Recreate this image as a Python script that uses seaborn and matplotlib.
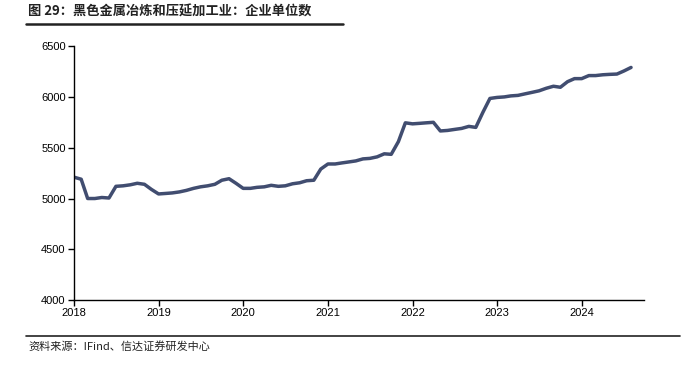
import numpy as np
import pandas as pd
import matplotlib
matplotlib.use("Agg")
import matplotlib.pyplot as plt
import matplotlib.dates as mdates
from matplotlib.lines import Line2D
import seaborn as sns

# monthly number of enterprises, Jan 2018 - Aug 2024
months = pd.date_range("2018-01-01", periods=80, freq="MS")
units = [
    5210, 5190, 5000, 5000, 5010, 5005, 5120, 5125, 5135, 5150, 5140, 5090,  # 2018
    5045, 5050, 5055, 5065, 5080, 5100, 5115, 5125, 5140, 5180, 5195, 5150,  # 2019
    5100, 5100, 5110, 5115, 5130, 5120, 5125, 5145, 5155, 5175, 5180, 5290,  # 2020
    5340, 5340, 5350, 5360, 5370, 5390, 5395, 5410, 5440, 5435, 5560, 5745,  # 2021
    5735, 5740, 5745, 5750, 5665, 5670, 5680, 5690, 5710, 5700, 5850, 5985,  # 2022
    5995, 6000, 6010, 6015, 6030, 6045, 6060, 6085, 6105, 6095, 6150, 6180,  # 2023
    6180, 6210, 6210, 6218, 6222, 6225, 6255, 6290,                          # 2024
]
title = "图 29：黑色金属冶炼和压延加工业：企业单位数"
source = "资料来源：IFind、信达证券研发中心"
yticks = [4000, 4500, 5000, 5500, 6000, 6500]

sns.set_theme(style="white")
plt.rcParams["font.family"] = ["Liberation Sans", "Noto Sans CJK SC", "DejaVu Sans"]

df = pd.DataFrame({"month": months, "units": units})

fig = plt.figure(figsize=(7, 3.66), dpi=100)
ax = fig.add_axes([0.1057, 0.180, 0.815, 0.694])
sns.lineplot(data=df, x="month", y="units", ax=ax, color="#414d70", linewidth=2.5,
             solid_joinstyle="round", solid_capstyle="round")

ax.set_ylim(4000, 6500)
ax.set_yticks(yticks)
ax.set_xlim(pd.Timestamp("2018-01-01"), pd.Timestamp("2024-09-28"))
ax.xaxis.set_major_locator(mdates.YearLocator())
ax.xaxis.set_major_formatter(mdates.DateFormatter("%Y"))
ax.set_xlabel("")
ax.set_ylabel("")
for s in ["top", "right"]:
    ax.spines[s].set_visible(False)
for s in ["left", "bottom"]:
    ax.spines[s].set_color("black")
    ax.spines[s].set_linewidth(1.0)
ax.tick_params(axis="both", labelsize=8, colors="black", length=4, width=1,
               direction="out", bottom=True, left=True, pad=2)

fig.text(0.04, 0.967, title, fontsize=9.5, fontweight="bold", color="#222222",
         va="center", ha="left", family=["Noto Sans CJK SC", "DejaVu Sans"])
fig.add_artist(Line2D([0.037, 0.49], [0.934, 0.934], color="#222222", lw=1.8))
fig.add_artist(Line2D([0.037, 0.971], [0.082, 0.082], color="#222222", lw=1.2))
fig.text(0.04, 0.052, source, fontsize=8, color="#222222", va="center", ha="left",
         family=["Noto Sans CJK SC", "DejaVu Sans"])

fig.savefig("out.png", dpi=100)
